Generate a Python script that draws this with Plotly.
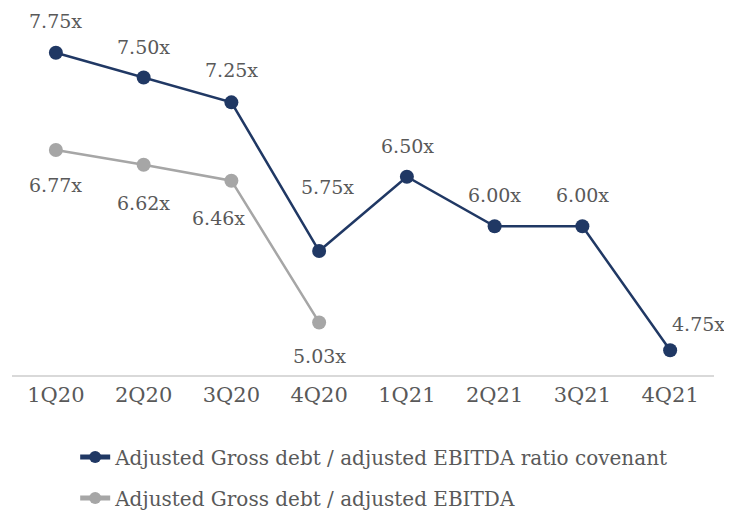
import plotly.graph_objects as go

quarters = ["1Q20", "2Q20", "3Q20", "4Q20", "1Q21", "2Q21", "3Q21", "4Q21"]
covenant = [7.75, 7.50, 7.25, 5.75, 6.50, 6.00, 6.00, 4.75]
actual_q = ["1Q20", "2Q20", "3Q20", "4Q20"]
actual = [6.77, 6.62, 6.46, 5.03]

name_cov = "Adjusted Gross debt / adjusted EBITDA ratio covenant"
name_act = "Adjusted Gross debt / adjusted EBITDA"

NAVY = "#203864"
GREY = "#A6A6A6"
TXT = "#595959"
FONT = "DejaVu Serif, serif"

# label offsets (pixels) - style only
cov_shift = [(0, 32), (0, 31), (0, 32), (8, 64), (1, 31), (0, 31), (0, 31), (28, 26)]
act_shift = [(0, -35), (0, -38), (-13, -37), (0, -34)]

fig = go.Figure()
fig.add_trace(go.Scatter(x=quarters, y=covenant, mode="lines+markers", name=name_cov,
                         legendgroup="a",
                         line=dict(color=NAVY, width=2.5),
                         marker=dict(color=NAVY, size=14)))
fig.add_trace(go.Scatter(x=actual_q, y=actual, mode="lines+markers", name=name_act,
                         legendgroup="b",
                         line=dict(color=GREY, width=2.5),
                         marker=dict(color=GREY, size=14)))

for q, v, (dx, dy) in zip(quarters, covenant, cov_shift):
    fig.add_annotation(x=q, y=v, text=f"{v:.2f}x", showarrow=False,
                       xshift=dx, yshift=dy, font=dict(size=19, color=TXT, family=FONT))
for q, v, (dx, dy) in zip(actual_q, actual, act_shift):
    fig.add_annotation(x=q, y=v, text=f"{v:.2f}x", showarrow=False,
                       xshift=dx, yshift=dy, font=dict(size=19, color=TXT, family=FONT))

fig.update_layout(
    width=724, height=505,
    margin=dict(l=4, r=18, t=20, b=138, autoexpand=False),
    plot_bgcolor="white", paper_bgcolor="white",
    font=dict(family=FONT, size=20, color=TXT),
    showlegend=True,
    legend=dict(orientation="v", x=0.09, xanchor="left", y=-0.18, yanchor="top",
                font=dict(size=20, color=TXT, family=FONT), tracegroupgap=12,
                itemsizing="constant"),
    xaxis=dict(type="category", showgrid=False, showline=True, linecolor="#D9D9D9",
               linewidth=2, ticks="", tickfont=dict(size=21, color=TXT, family=FONT),
               range=[-0.5, 7.5], fixedrange=True),
    yaxis=dict(range=[4.5, 8.0], showgrid=False, showticklabels=False, zeroline=False,
               showline=False, fixedrange=True),
)

fig.write_html("out.html")
